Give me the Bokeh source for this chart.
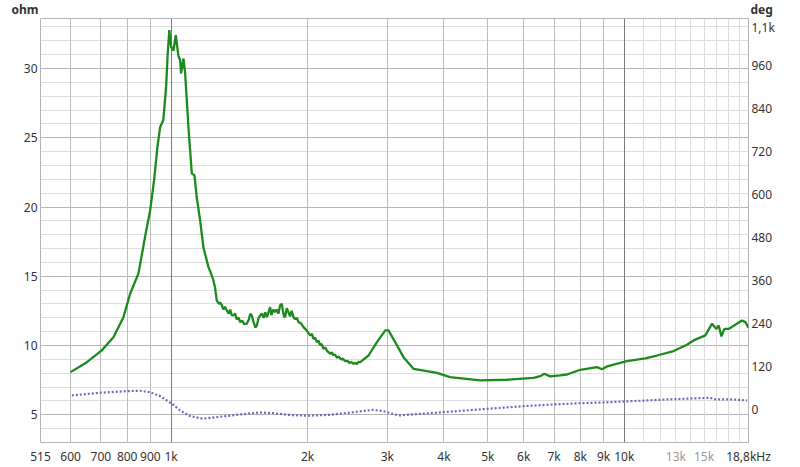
from bokeh.plotting import figure
from bokeh.models import Range1d, LinearAxis, LogAxis, FixedTicker, Grid
from bokeh.layouts import column
from bokeh.embed import file_html
from bokeh.resources import INLINE

# ---- data ----
imp_freq = [600, 652, 703, 746, 785, 812, 847, 876, 899, 917, 933, 946, 961, 975, 983, 991,
            1000, 1012, 1024, 1038, 1047, 1052, 1065, 1074, 1092, 1111, 1126, 1139, 1159, 1178,
            1209, 1225, 1240, 1250, 1261, 1275, 1285, 1294, 1305, 1315, 1327, 1340, 1350, 1360,
            1372, 1385, 1395, 1410, 1420, 1435, 1450, 1469, 1485, 1495, 1507, 1520, 1535, 1546,
            1560, 1575, 1586, 1600, 1613, 1627, 1640, 1654, 1665, 1680, 1696, 1710, 1725, 1740,
            1755, 1765, 1775, 1785, 1800, 1815, 1830, 1845, 1862, 1880, 1895, 1910, 1935, 1959,
            1990, 2027, 2045, 2060, 2080, 2097, 2115, 2130, 2150, 2169, 2190, 2210, 2244, 2265,
            2280, 2300, 2322, 2345, 2370, 2395, 2422, 2450, 2470, 2500, 2526, 2550, 2570, 2590,
            2614, 2727, 2846, 2969, 3018, 3122, 3257, 3427, 3668, 3859, 4129, 4272, 4810, 5510,
            6306, 6524, 6658, 6866, 7224, 7474, 7996, 8704, 8929, 9158, 10140, 11130, 11810,
            12850, 13750, 14220, 15100, 15620, 15970, 16160, 16380, 16630, 16990, 18190, 18500,
            18800]
imp_ohm = [8.08, 8.80, 9.65, 10.6, 12.05, 13.74, 15.19, 17.83, 19.76, 21.93, 24.34, 25.78, 26.26,
           28.67, 31.08, 32.77, 31.56, 31.3, 32.4, 30.9, 30.6, 29.64, 30.72, 29.64, 25.78, 22.41,
           22.29, 20.72, 19.04, 17.11,
           15.66, 15.2, 14.7, 14.2, 13.26, 13.0, 13.1, 12.9, 12.6, 12.8, 12.54, 12.3, 12.6, 12.2,
           12.17, 12.3, 11.9, 12.0, 11.69, 11.8, 11.55, 11.58, 11.9, 12.3, 12.17, 11.7, 11.3, 11.45,
           12.0, 12.2, 12.3, 12.0, 12.4, 12.05, 12.4, 12.77, 12.2, 12.6, 12.41, 12.6, 12.3, 12.9,
           13.02, 12.5, 12.1, 12.05, 12.7, 12.41, 12.1, 12.5, 12.05, 11.9, 12.0, 11.69, 11.6, 11.33,
           11.1, 10.73, 10.85, 10.5, 10.55, 10.25, 10.35, 10.05, 10.1, 9.77, 9.85, 9.6, 9.41, 9.5,
           9.3, 9.35, 9.12, 9.2, 9.0, 9.05, 8.87, 8.9, 8.75, 8.8, 8.68, 8.75, 8.65, 8.82,
           8.8, 9.28, 10.25, 11.09, 11.09, 10.25, 9.16, 8.32, 8.15, 8.03, 7.72, 7.67, 7.48, 7.53,
           7.67, 7.79, 7.96, 7.77, 7.84, 7.91, 8.25, 8.44, 8.29, 8.49, 8.87, 9.07, 9.28,
           9.6, 10.06, 10.37, 10.73, 11.58, 11.2, 11.45, 10.66, 11.2, 11.2, 11.81, 11.69,
           11.29]

ph_freq = [604, 697, 798, 854, 899, 946, 1004, 1047, 1101, 1178, 1283, 1420, 1572, 1682, 1800,
           1993, 2244, 2526, 2797, 2942, 3175, 3991, 5016, 5995, 6982, 7996, 9000, 10016, 12430,
           15480, 15880, 17430, 18660]
ph_deg = [39.9, 47.4, 51.9, 53, 49, 38, 16.7, -2, -17.8, -25, -19.5, -13, -7.5, -9.5, -14, -16.7,
          -14, -6.7, 0, -3.9, -15.9, -6.7, 2.8, 10, 14.8, 18.4, 20.4, 23.1, 28.7, 33.5, 28.7, 28.7,
          25.9]

x_ticks = [515, 600, 700, 800, 900, 1000, 2000, 3000, 4000, 5000, 6000, 7000, 8000, 9000, 10000, 18800]
x_tick_labels = ["515", "600", "700", "800", "900", "1k", "2k", "3k", "4k", "5k", "6k", "7k",
                 "8k", "9k", "10k", "18,8kHz"]
x_grey_ticks = [13000, 15000]
x_grey_labels = ["13k", "15k"]
ohm_ticks = [5, 10, 15, 20, 25, 30]
deg_ticks = [0, 120, 240, 360, 480, 600, 720, 840, 960, 1080]
deg_tick_labels = ["0", "120", "240", "360", "480", "600", "720", "840", "960", "1,1k"]
unit_left = "ohm"
unit_right = "deg"

FONT = "Noto Sans"
TXT = "#333333"
FS = "12px"
HEADER_H = 18
BORDER_L, BORDER_R = 40, 52


def style_axis(ax, standoff, color=TXT, bold=False):
    ax.axis_line_color = None
    ax.major_tick_line_color = None
    ax.minor_tick_line_color = None
    ax.major_tick_out = 0
    ax.major_tick_in = 0
    ax.major_label_standoff = standoff
    ax.major_label_text_font = FONT
    ax.major_label_text_font_size = FS
    ax.major_label_text_color = color
    if bold:
        ax.major_label_text_font_style = "bold"


# ---- header strip: unit names as side-axis labels ----
hdr = figure(width=800, height=HEADER_H, x_range=Range1d(0, 1), y_range=Range1d(0, 180),
             output_backend="svg", toolbar_location=None,
             min_border_left=BORDER_L, min_border_right=BORDER_R,
             min_border_top=0, min_border_bottom=0, x_axis_location=None)
hdr.outline_line_color = None
hdr.xgrid.visible = False
hdr.ygrid.visible = False
hl = hdr.yaxis[0]
hl.ticker = FixedTicker(ticks=[100])
hl.major_label_overrides = {100: unit_left}
style_axis(hl, 2, bold=True)
hr = LinearAxis(ticker=FixedTicker(ticks=[100]))
hr.major_label_overrides = {100: unit_right}
style_axis(hr, 2, bold=True)
hdr.add_layout(hr, "right")

# ---- main chart ----
p = figure(width=800, height=467 - HEADER_H, x_axis_type="log",
           x_range=Range1d(515, 18800), y_range=Range1d(3, 33.61),
           output_backend="svg", toolbar_location=None,
           min_border_left=BORDER_L, min_border_right=BORDER_R, min_border_top=0,
           min_border_bottom=25,
           background_fill_color="white", border_fill_color="white")
p.outline_line_color = "#b4b4b4"
p.xgrid.visible = False
p.ygrid.visible = False

p.extra_y_ranges = {"deg": Range1d(-91.2, 1090.1)}

minor_h = [v for v in range(4, 34) if v % 5 != 0]
grids = [
    (1, minor_h, "#dedede"),
    (1, ohm_ticks, "#b4b4b4"),
    (0, [600, 700, 800, 900, 2000, 3000, 4000, 5000, 6000, 7000, 8000, 9000], "#bdbdbd"),
    (0, [11000, 12000, 13000, 14000, 15000, 16000, 17000, 18000], "#dcdcdc"),
    (0, [1000, 10000], "#7a7a7a"),
]
for dim, ticks, col in grids:
    p.add_layout(Grid(dimension=dim, ticker=FixedTicker(ticks=ticks),
                      grid_line_color=col, grid_line_width=1))

xa = p.xaxis[0]
xa.ticker = FixedTicker(ticks=x_ticks)
xa.major_label_overrides = dict(zip(x_ticks, x_tick_labels))
style_axis(xa, 5)

# second bottom axis for the grey labels, pulled up onto the same row
xa2 = LogAxis(ticker=FixedTicker(ticks=x_grey_ticks))
xa2.major_label_overrides = dict(zip(x_grey_ticks, x_grey_labels))
style_axis(xa2, -20, "#9a9a9a")
p.add_layout(xa2, "below")

ya = p.yaxis[0]
ya.ticker = FixedTicker(ticks=ohm_ticks)
style_axis(ya, 3)

ra = LinearAxis(y_range_name="deg", ticker=FixedTicker(ticks=deg_ticks))
ra.major_label_overrides = dict(zip(deg_ticks, deg_tick_labels))
style_axis(ra, 3)
p.add_layout(ra, "right")

p.line(ph_freq, ph_deg, y_range_name="deg", line_color="#6a6abf", line_width=2.2, line_dash="2 2")
p.line(imp_freq, imp_ohm, line_color="#1c8a1c", line_width=2.3)

open("out.html", "w").write(file_html(column(hdr, p), INLINE))
